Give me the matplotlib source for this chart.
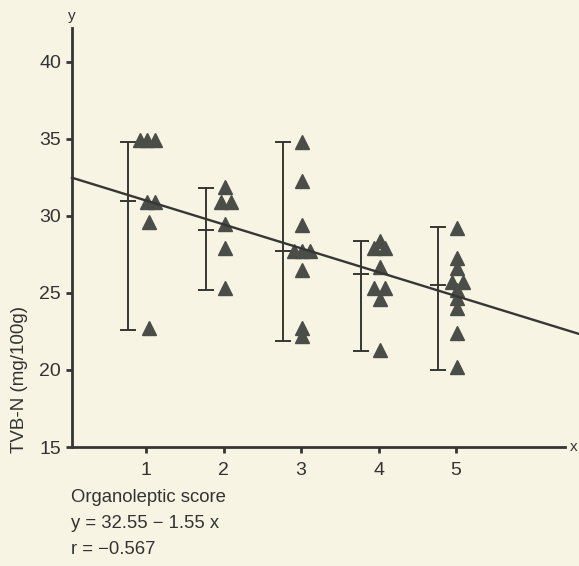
import numpy as np
import matplotlib
matplotlib.use("Agg")
import matplotlib.pyplot as plt

# organoleptic score groups and measured TVB-N values (mg/100g)
score_1 = [34.9, 34.9, 34.9, 30.9, 30.9, 29.6, 22.7]
score_2 = [31.9, 30.9, 30.9, 29.5, 27.9, 25.3]
score_3 = [34.8, 32.3, 29.4, 27.7, 27.7, 27.7, 26.5, 22.7, 22.2]
score_4 = [28.4, 27.9, 27.9, 26.7, 25.3, 25.3, 24.6, 21.3]
score_5 = [29.2, 27.3, 26.6, 25.7, 25.7, 25.2, 24.7, 24.0, 22.4, 20.2]

# little sideways shifts so overlapping triangles stay visible
jitter_1 = [-0.09, 0.0, 0.1, 0.0, 0.1, 0.02, 0.02]
jitter_2 = [0.0, -0.05, 0.08, 0.0, 0.0, 0.0]
jitter_3 = [0.0, 0.0, 0.0, -0.1, 0.0, 0.1, 0.0, 0.0, 0.0]
jitter_4 = [0.0, -0.07, 0.07, 0.0, -0.07, 0.07, 0.0, 0.0]
jitter_5 = [0.0, 0.0, 0.0, -0.07, 0.07, 0.0, 0.0, 0.0, 0.0, 0.0]

scores = [1, 2, 3, 4, 5]
groups = [score_1, score_2, score_3, score_4, score_5]
jitters = [jitter_1, jitter_2, jitter_3, jitter_4, jitter_5]

# mean and range bars drawn left of each group
bar_mean = [31.0, 29.1, 27.7, 26.2, 25.5]
bar_high = [34.8, 31.8, 34.8, 28.4, 29.3]
bar_low = [22.6, 25.2, 21.9, 21.2, 20.0]

# regression y = 32.55 - 1.55 x
a = 32.55
b = -1.55

ink = "#363634"
tri = "#4b4d49"
paper = "#f7f4e4"
font = "Liberation Sans"

fig = plt.figure(figsize=(5.79, 5.66), dpi=100, facecolor=paper)
ax = fig.add_axes([72 / 579, 1 - 447 / 566, (565 - 72) / 579, (447 - 28) / 566])
ax.set_facecolor(paper)

# triangles
for s, vals, jit in zip(scores, groups, jitters):
    xs = [s + 0.015 + j for j in jit]
    ax.plot(xs, vals, linestyle="none", marker="^", markersize=10,
            color=tri, markeredgecolor=tri, clip_on=False, zorder=3)

# range bars with mean tick
for s, m, hi, lo in zip(scores, bar_mean, bar_high, bar_low):
    xb = s - 0.23
    ax.errorbar([xb], [m], yerr=[[m - lo], [hi - m]], fmt="none",
                ecolor=ink, elinewidth=1.4, capsize=5.5, capthick=1.4, zorder=2)
    ax.plot([xb], [m], marker="_", markersize=12, markeredgewidth=1.4,
            color=ink, zorder=2)

# regression line
xl = np.array([0.045, 6.6])
ax.plot(xl, a + b * xl, color=ink, linewidth=1.7, clip_on=False, zorder=4)

ax.set_xlim(0.045, 6.406)
ax.set_ylim(15, 42.2)

for side in ["top", "right"]:
    ax.spines[side].set_visible(False)
for side in ["left", "bottom"]:
    ax.spines[side].set_linewidth(2.0)
    ax.spines[side].set_color(ink)

ax.set_xticks(scores)
ax.set_yticks([15, 20, 25, 30, 35, 40])
ax.tick_params(direction="out", length=4, width=2, color=ink, labelcolor="#333333",
               labelsize=14, pad=4)
ax.tick_params(axis="x", pad=7)
for lab in ax.get_xticklabels() + ax.get_yticklabels():
    lab.set_family(font)

fig.text(72 / 579, 1 - 16 / 566, "y", ha="center", va="center",
         fontsize=11, color="#333333", family=font)
fig.text(574 / 579, 1 - 447 / 566, "x", ha="center", va="center",
         fontsize=11, color="#333333", family=font)
fig.text(19 / 579, 1 - 453 / 566, "TVB-N (mg/100g)", rotation=90, ha="center",
         va="bottom", fontsize=13.5, color="#333333", family=font)

fig.text(71 / 579, 1 - 497 / 566, "Organoleptic score", ha="left", va="center",
         fontsize=13.3, color="#333333", family=font)
fig.text(71 / 579, 1 - 523 / 566, "y = 32.55 \u2212 1.55 x", ha="left", va="center",
         fontsize=13.3, color="#333333", family=font)
fig.text(71 / 579, 1 - 549 / 566, "r = \u22120.567", ha="left", va="center",
         fontsize=13.3, color="#333333", family=font)

fig.savefig("out.png", dpi=100, facecolor=paper)
